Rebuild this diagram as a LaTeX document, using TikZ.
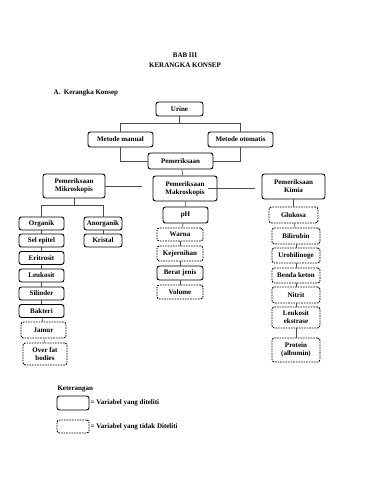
\documentclass[tikz,border=0pt]{standalone}
\usepackage{fontspec}
\setmainfont{Liberation Serif}
\begin{document}
\begin{tikzpicture}[x=1pt, y=-1pt,
    % --- Styles ---
    every node/.style={font=\fontsize{7}{8}\selectfont\bfseries},
    % Solid boxes: variables that are examined
    var box/.style={draw, line width=0.9pt, rounded corners=2.5pt, align=center, inner sep=1pt},
    % Dashed boxes: variables that are not examined
    free box/.style={var box, dash pattern=on 1.6pt off 1pt},
    link/.style={draw=black!70, line width=0.6pt}
]

% Page frame (pixel grid of the page)
\fill[white] (0,0) rectangle (371,480);
\useasboundingbox (0,0) rectangle (371,480);

% --- Headings ---
\node (bab) at (185,55) {BAB III};
\node (judul) at (185,65) {KERANGKA KONSEP};
\node[anchor=west] (subjudul) at (50,93) {A.\ \ Kerangka Konsep};

% --- Top of the tree ---
\node[var box, minimum width=47pt, minimum height=14pt] (urine) at (179.5,109) {Urine};
\node[var box, minimum width=65pt, minimum height=15pt] (manual) at (120.5,139.5) {Metode manual};
\node[var box, minimum width=65pt, minimum height=15pt] (otomatis) at (240.5,139.5) {Metode otomatis};
\node[var box, minimum width=65pt, minimum height=16pt] (periksa) at (180.5,161) {Pemeriksaan};

% --- Three kinds of examination ---
\node[var box, minimum width=62pt, minimum height=24pt] (mikro) at (74,186) {Pemeriksaan\\Mikroskopis};
\node[var box, minimum width=64pt, minimum height=25pt] (makro) at (185,188.5) {Pemeriksaan\\Makroskopis};
\node[var box, minimum width=63pt, minimum height=25pt] (kimia) at (293.5,186.5) {Pemeriksaan\\Kimia};

% --- Mikroskopis column ---
\node[var box, minimum width=45pt, minimum height=13pt] (organik) at (41.5,223.5) {Organik};
\node[var box, minimum width=45pt, minimum height=13pt] (epitel) at (41.5,240.5) {Sel epitel};
\node[var box, minimum width=45pt, minimum height=13pt] (eritrosit) at (41.5,258) {Eritrosit};
\node[var box, minimum width=45pt, minimum height=13pt] (leukosit) at (41.5,275.5) {Leukosit};
\node[var box, minimum width=45pt, minimum height=13pt] (silinder) at (41.5,293.5) {Silinder};
\node[var box, minimum width=45pt, minimum height=13pt] (bakteri) at (41.5,311) {Bakteri};
\node[free box, minimum width=45pt, minimum height=16pt] (jamur) at (43.5,330) {Jamur};
\node[free box, minimum width=44pt, minimum height=22pt] (overfat) at (45,354) {Over fat\\bodies};

\node[var box, minimum width=38pt, minimum height=13pt] (anorganik) at (103,223.5) {Anorganik};
\node[var box, minimum width=38pt, minimum height=13pt] (kristal) at (103,240.5) {Kristal};

% --- Makroskopis column ---
\node[var box, minimum width=45pt, minimum height=16pt] (ph) at (185.5,215) {pH};
\node[free box, minimum width=46pt, minimum height=13pt] (warna) at (180,234.5) {Warna};
\node[free box, minimum width=46pt, minimum height=15pt] (jernih) at (180,253.5) {Kejernihan};
\node[var box, minimum width=46pt, minimum height=14pt] (berat) at (180,273) {Berat jenis};
\node[free box, minimum width=46pt, minimum height=14pt] (volume) at (180,292) {Volume};

% --- Kimia column ---
\node[free box, minimum width=49pt, minimum height=16pt] (glukosa) at (293.5,215) {Glukosa};
\node[free box, minimum width=48pt, minimum height=16pt] (bilirubin) at (296,236) {Bilirubin};
\node[free box, minimum width=48pt, minimum height=15pt] (urobilin) at (296,255.5) {Urobilinoge};
\node[free box, minimum width=48pt, minimum height=15pt] (keton) at (296,275.5) {Benda keton};
\node[free box, minimum width=48pt, minimum height=16pt] (nitrit) at (296,295) {Nitrit};
\node[free box, minimum width=48pt, minimum height=21pt] (ekstrase) at (296,317.5) {Leukosit\\ekstrase};
\node[free box, minimum width=48pt, minimum height=24pt] (protein) at (296,350) {Protein\\(albumin)};

% --- Connectors ---
\draw[link] (urine.south) -- ++(0,7) -| (manual.north);
\draw[link] (urine.south) -- ++(0,7) -| (otomatis.north);
\draw[link] (manual.south) |- (periksa.west);
\draw[link] (otomatis.south) |- (periksa.east);
\draw[link] (periksa) -- (makro);
\draw[link, shorten >=11pt] (mikro.east) -- (mikro.east -| makro.west);
\draw[link, shorten <=-9pt, shorten >=7pt] (makro.east) -- (makro.east -| kimia.west);

\draw[link] (mikro.south) -- ++(0,7) -| (organik.north);
\draw[link] (mikro.south) -- ++(0,7) -| (anorganik.north);

% chains of boxes down each column
\foreach \upper/\lower in {organik/epitel, epitel/eritrosit, eritrosit/leukosit,
    leukosit/silinder, silinder/bakteri, bakteri/jamur, jamur/overfat,
    anorganik/kristal,
    makro/ph, ph/warna, warna/jernih, jernih/berat, berat/volume,
    kimia/glukosa, glukosa/bilirubin, bilirubin/urobilin, urobilin/keton,
    keton/nitrit, nitrit/ekstrase, ekstrase/protein}
    \draw[link] (\upper) -- (\lower);

% --- Legend ---
\node[anchor=west] (ket) at (54,389) {Keterangan};
\node[var box, minimum width=32pt, minimum height=14pt] (legsolid) at (73,403) {};
\node[anchor=west, inner sep=1pt] (legsolidtxt) at (legsolid.east) {= Variabel yang diteliti};
\node[free box, minimum width=32pt, minimum height=13pt] (legdash) at (73,426.5) {};
\node[anchor=west, inner sep=1pt] (legdashtxt) at (legdash.east) {= Variabel yang tidak Diteliti};

\end{tikzpicture}
\end{document}
